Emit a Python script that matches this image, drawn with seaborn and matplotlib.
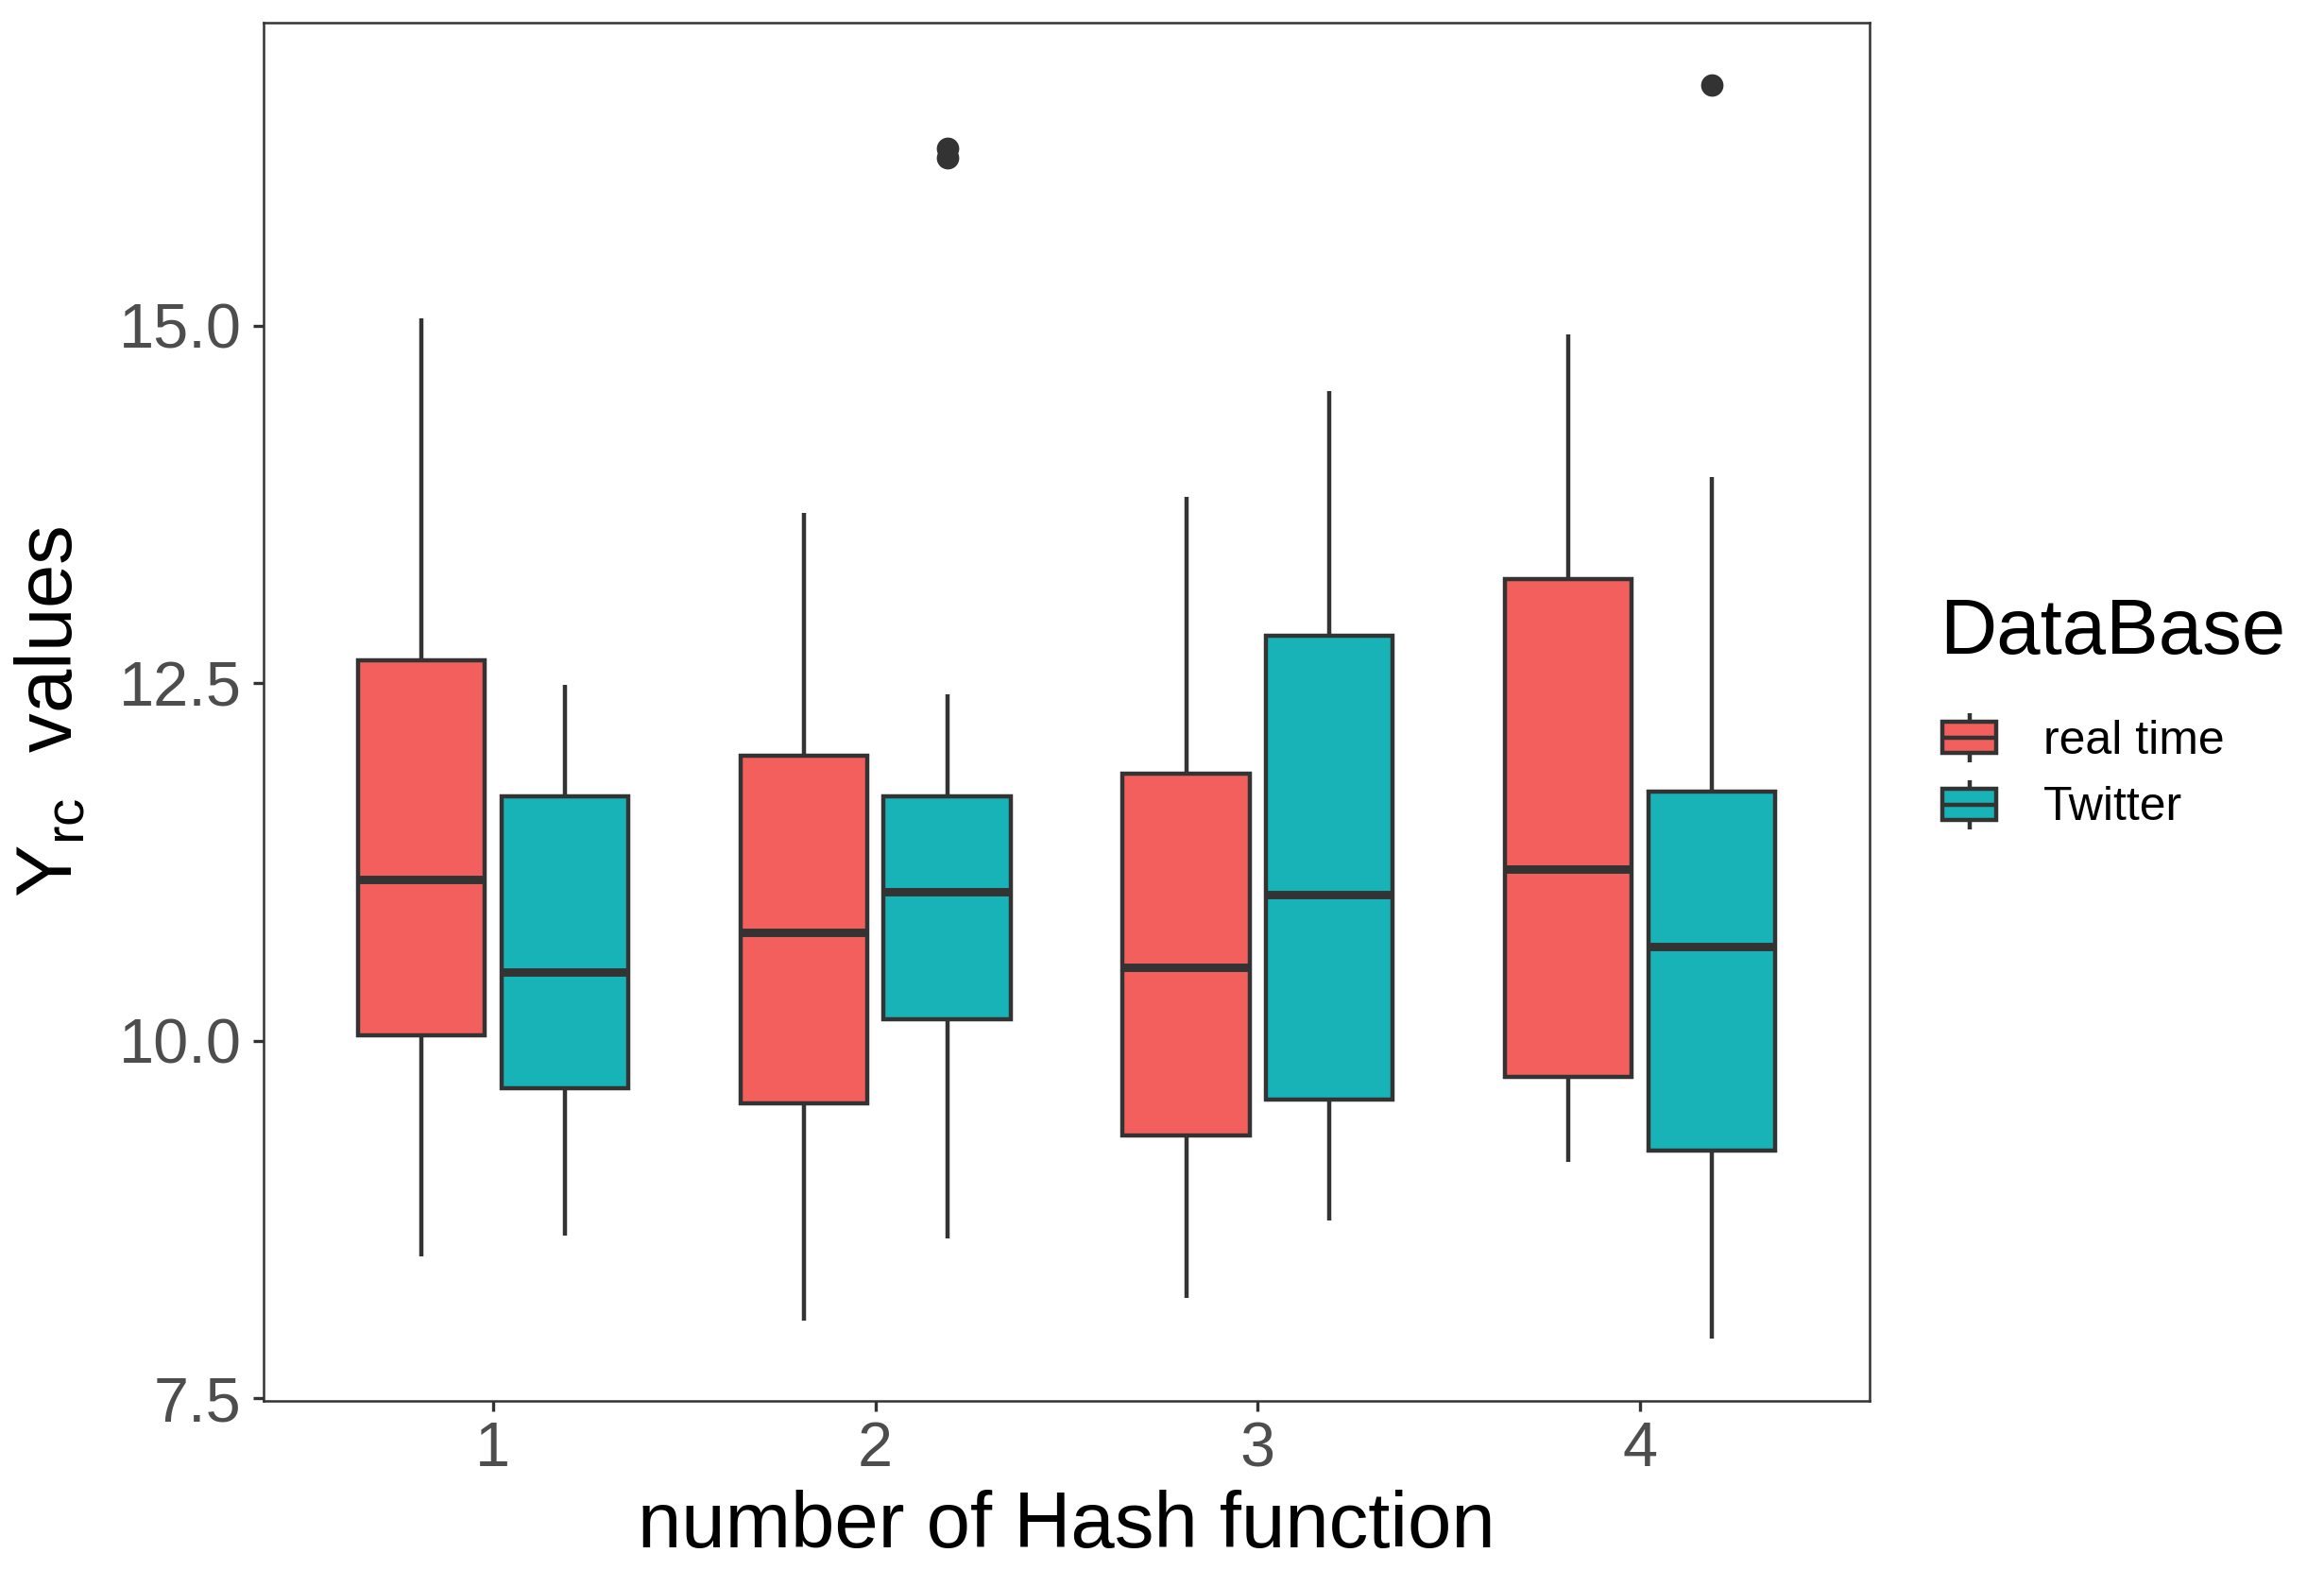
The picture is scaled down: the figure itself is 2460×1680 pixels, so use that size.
import pandas as pd
import matplotlib
matplotlib.use('Agg')
import matplotlib.pyplot as plt
import seaborn as sns
from matplotlib.patches import Patch, Rectangle
from matplotlib.lines import Line2D
from matplotlib.legend_handler import HandlerBase

hash_functions = ['1', '2', '3', '4']
databases = ['real time', 'Twitter']
colors = ['#F25F5C', '#18B3B7']
line_color = '#333333'

# box summaries: lower whisker, Q1, median, Q3, upper whisker
realtime_low = [8.49, 8.04, 8.20, 9.15]
realtime_q1 = [10.04, 9.56, 9.34, 9.75]
realtime_median = [11.13, 10.76, 10.51, 11.20]
realtime_q3 = [12.66, 11.99, 11.87, 13.23]
realtime_high = [15.05, 13.69, 13.80, 14.94]
realtime_outliers = [[], [], [], []]

twitter_low = [8.64, 8.62, 8.74, 7.92]
twitter_q1 = [9.67, 10.15, 9.59, 9.23]
twitter_median = [10.48, 11.04, 11.02, 10.66]
twitter_q3 = [11.71, 11.71, 12.83, 11.74]
twitter_high = [12.49, 12.42, 14.54, 13.94]
twitter_outliers = [[], [16.17, 16.24], [], [16.68]]


def samples(low, q1, med, q3, high, outliers):
    # 13 points whose quartiles / whiskers give back the summary above
    k = len(outliers)
    return [low] + [q1] * 3 + [med] * (5 - k) + [q3] * 3 + [high] + list(outliers)


rows = []
for db, stats in [('real time', (realtime_low, realtime_q1, realtime_median, realtime_q3, realtime_high, realtime_outliers)),
                  ('Twitter', (twitter_low, twitter_q1, twitter_median, twitter_q3, twitter_high, twitter_outliers))]:
    for i, h in enumerate(hash_functions):
        for v in samples(*[s[i] for s in stats]):
            rows.append({'hash': h, 'database': db, 'value': v})
df = pd.DataFrame(rows)


class BoxKey(HandlerBase):
    # ggplot style legend key: box with median line and whisker stubs
    def create_artists(self, legend, orig_handle, xdescent, ydescent, width, height, fontsize, trans):
        x0, y0 = -xdescent, -ydescent
        xm = x0 + width / 2
        ym = y0 + height / 2
        bh = height * 0.64
        whisker = Line2D([xm, xm], [y0, y0 + height], color=line_color, lw=1.07,
                         solid_capstyle='butt', transform=trans)
        box = Rectangle((x0, ym - bh / 2), width, bh, facecolor=orig_handle.get_facecolor(),
                        edgecolor=line_color, lw=1.07, transform=trans)
        median = Line2D([x0, x0 + width], [ym, ym], color=line_color, lw=1.07,
                        solid_capstyle='butt', transform=trans)
        return [whisker, box, median]


sns.set_style('white')
plt.rcParams['font.family'] = ['Liberation Sans', 'DejaVu Sans']
plt.rcParams['mathtext.fontset'] = 'custom'
plt.rcParams['mathtext.rm'] = 'Liberation Sans'
plt.rcParams['lines.solid_capstyle'] = 'butt'
plt.rcParams['text.color'] = 'black'

fig = plt.figure(figsize=(8.2, 5.6), dpi=300)
ax = fig.add_axes([0.1134, 0.1173, 0.6911, 0.8685])

sns.boxplot(data=df, x='hash', y='value', hue='database', order=hash_functions,
            hue_order=databases, palette=colors, saturation=1, width=0.75, gap=0.115,
            linewidth=1.07, linecolor=line_color, fliersize=4.7, whis=1.5,
            flierprops=dict(marker='o', markerfacecolor=line_color, markeredgecolor=line_color),
            medianprops=dict(linewidth=2.13), showcaps=False, legend=False, ax=ax)

ymin, ymax = df['value'].min(), df['value'].max()
pad = (ymax - ymin) * 0.05
ax.set_ylim(ymin - pad, ymax + pad)
ax.set_xlim(-0.6, 3.6)
ax.set_yticks([7.5, 10.0, 12.5, 15.0])
ax.set_yticklabels(['7.5', '10.0', '12.5', '15.0'])

for sp in ax.spines.values():
    sp.set_visible(True)
    sp.set_color(line_color)
    sp.set_linewidth(0.6)

ax.tick_params(axis='both', length=2.75, width=0.8, color=line_color,
               labelcolor='#4D4D4D', labelsize=16, bottom=True, left=True, direction='out')
ax.tick_params(axis='y', pad=2.9)
ax.tick_params(axis='x', pad=2.4)

ax.set_xlabel('number of Hash function', fontsize=20, labelpad=2.5, color='black')
ax.set_ylabel(r'$\mathregular{Y_{rc}}$  values', fontsize=20, labelpad=7.7, color='black')

handles = [Patch(facecolor=c, edgecolor=line_color, label=d) for c, d in zip(colors, databases)]
leg = fig.legend(handles=handles, labels=databases, handler_map={Patch: BoxKey()},
                 loc='upper left', bbox_to_anchor=(2056 / 2460, 1 - 755 / 1680),
                 frameon=False, fontsize=12, handlelength=13.7 / 12, handleheight=14.6 / 12,
                 handletextpad=0.99, labelspacing=0.36, borderpad=0, borderaxespad=0)
for t in leg.get_texts():
    t.set_color('black')
fig.text(2053 / 2460, 1 - 691.7 / 1680, 'DataBase', fontsize=20, ha='left', va='baseline',
         color='black')

plt.savefig('out.png', dpi=300, facecolor='white')
